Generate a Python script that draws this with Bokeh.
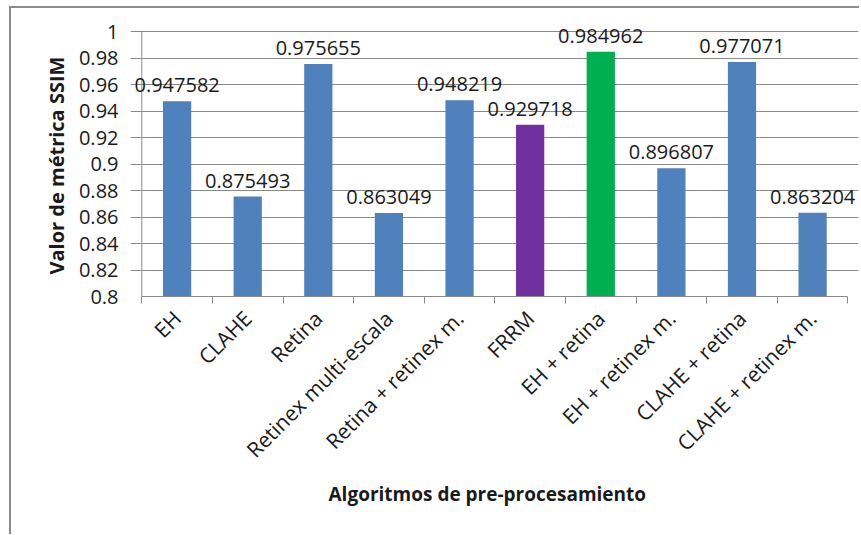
from bokeh.plotting import figure
from bokeh.models import Range1d, FixedTicker, ColumnDataSource, Title
from bokeh.core.properties import value
from bokeh.embed import file_html
from bokeh.resources import INLINE

# SSIM per pre-processing algorithm
algorithms = [
    "EH", "CLAHE", "Retina", "Retinex multi-escala", "Retina + retinex m.",
    "FRRM", "EH + retina", "EH + retinex m.", "CLAHE + retina", "CLAHE + retinex m.",
]
ssim = [
    0.947582, 0.875493, 0.975655, 0.863049, 0.948219,
    0.929718, 0.984962, 0.896807, 0.977071, 0.863204,
]
y_ticks = [0.8, 0.82, 0.84, 0.86, 0.88, 0.9, 0.92, 0.94, 0.96, 0.98, 1.0]
y_tick_labels = ["0.8", "0.82", "0.84", "0.86", "0.88", "0.9", "0.92", "0.94", "0.96", "0.98", "1"]

BLUE, PURPLE, GREEN = "#4f81bd", "#7030a0", "#00b050"
highlight = {"FRRM": PURPLE, "EH + retina": GREEN}
bar_colors = [highlight.get(a, BLUE) for a in algorithms]

FONT = "Open Sans"
GRID = "#8a8a8a"
TEXT = "#1a1a1a"

n = len(algorithms)
centers = [i + 0.5 for i in range(n)]
source = ColumnDataSource(dict(
    x=centers, top=ssim, color=bar_colors, label=[f"{v:.6f}" for v in ssim],
))

# the ranges run a little past the value axis on every side so that the
# value labels are never cut off by the plot frame
p = figure(
    width=850, height=528,
    x_range=Range1d(-0.16, n + 0.15), y_range=Range1d(0.8, 1.01),
    output_backend="svg", toolbar_location=None,
    min_border_left=119, min_border_right=3, min_border_top=10, min_border_bottom=240,
)
p.styles = {
    "border-left": "2px solid #8c8c8c",
    "border-top": "2px solid #8c8c8c",
    "margin-left": "9px",
    "margin-top": "6px",
}
p.outline_line_color = None
p.background_fill_color = "white"

p.vbar(x="x", top="top", bottom=0.8, width=0.4, fill_color="color", line_color=None, source=source)

# value axis line at x = 0
p.segment(x0=[0], y0=[y_ticks[0]], x1=[0], y1=[y_ticks[-1]], line_color=GRID, line_width=1)

# value labels above each bar
p.text(
    x="x", y="top", text="label", source=source,
    text_align="center", text_baseline="alphabetic", y_offset=-16,
    text_font=value(FONT), text_font_size="20px", text_color=TEXT,
)

# y axis: only its labels are shown, the grid lines carry the tick marks
p.yaxis.ticker = FixedTicker(ticks=y_ticks)
p.yaxis.major_label_overrides = dict(zip(y_ticks, y_tick_labels))
p.yaxis.axis_line_color = None
p.yaxis.major_tick_line_color = None
p.yaxis.minor_tick_line_color = None
p.yaxis.major_tick_out = 0
p.yaxis.major_tick_in = 0
p.yaxis.major_label_standoff = 12
p.yaxis.major_label_text_font = FONT
p.yaxis.major_label_text_font_size = "20px"
p.yaxis.major_label_text_color = TEXT

p.add_layout(Title(
    text="Valor de métrica SSIM", align="left", offset=22, standoff=11,
    text_font=FONT, text_font_style="bold", text_font_size="20px", text_color=TEXT,
), "left")

# x axis: names centred under bars, tick marks on category boundaries
p.xaxis.ticker = FixedTicker(ticks=centers, minor_ticks=list(range(n + 1)))
p.xaxis.bounds = (0, n)
p.xaxis.major_label_overrides = dict(zip(centers, algorithms))
p.xaxis.major_label_orientation = 0.785398
p.xaxis.axis_line_color = GRID
p.xaxis.major_tick_line_color = None
p.xaxis.minor_tick_line_color = GRID
p.xaxis.minor_tick_out = 7
p.xaxis.minor_tick_in = 0
p.xaxis.major_label_standoff = 11
p.xaxis.major_label_text_font = FONT
p.xaxis.major_label_text_font_size = "21px"
p.xaxis.major_label_text_color = TEXT

p.add_layout(Title(
    text="Algoritmos de pre-procesamiento", align="left", offset=198, standoff=5,
    text_font=FONT, text_font_style="bold", text_font_size="19px", text_color=TEXT,
), "below")

p.xgrid.grid_line_color = None
p.ygrid.ticker = FixedTicker(ticks=y_ticks)
p.ygrid.bounds = (-0.113, n)
p.ygrid.grid_line_color = GRID
p.ygrid.grid_line_width = 1

open("out.html", "w").write(file_html(p, INLINE))
